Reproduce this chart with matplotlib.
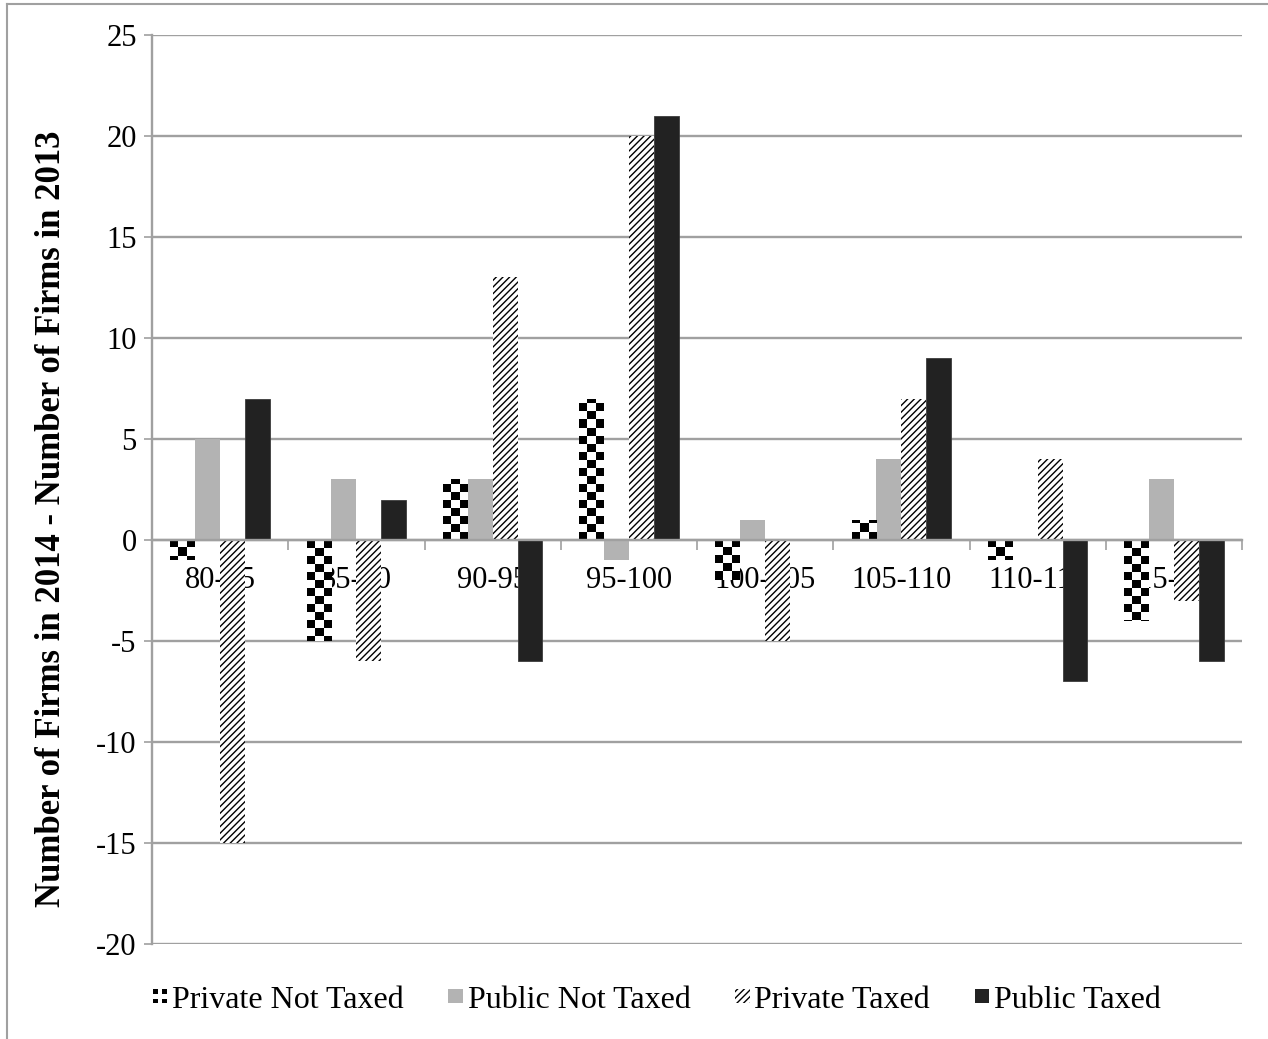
import numpy as np
import matplotlib
matplotlib.use("Agg")
import matplotlib.pyplot as plt
from matplotlib.patches import Rectangle
from matplotlib.legend_handler import HandlerBase
from matplotlib.lines import Line2D

# Price bands and change in firm counts (2014 minus 2013)
categories = ["80-85", "85-90", "90-95", "95-100", "100-105", "105-110", "110-115", "115-120"]
private_not_taxed = [-1, -5, 3, 7, -2, 1, -1, -4]
public_not_taxed = [5, 3, 3, -1, 1, 4, 0, 3]
private_taxed = [-15, -6, 13, 20, -5, 7, 4, -3]
public_taxed = [7, 2, -6, 21, 0, 9, -7, -6]
series_names = ["Private Not Taxed", "Public Not Taxed", "Private Taxed", "Public Taxed"]
y_ticks = [-20, -15, -10, -5, 0, 5, 10, 15, 20, 25]

plt.rcParams["font.family"] = ["Liberation Serif", "DejaVu Serif"]
plt.rcParams["hatch.linewidth"] = 1.0

W, H, DPI = 1268, 1039, 100
fig = plt.figure(figsize=(W / DPI, H / DPI), dpi=DPI)
ax = fig.add_axes([152 / W, 1 - 944 / H, 1090 / W, 909 / H])

GRID = "#a0a0a0"
GRAY = "#b3b3b3"
DARK = "#222222"
HATCH = "/////"

x = np.arange(len(categories))
bw = 0.183
offs = np.array([-1.5, -0.5, 0.5, 1.5]) * bw

ax.set_xlim(-0.5, len(categories) - 0.5)
ax.set_ylim(-20, 25)

bars_pnt = ax.bar(x + offs[0], private_not_taxed, bw, color="white", edgecolor="none", zorder=2)
ax.bar(x + offs[1], public_not_taxed, bw, color=GRAY, edgecolor="none", zorder=2)
ax.bar(x + offs[2], private_taxed, bw, color="white", edgecolor="black",
       linewidth=0, hatch=HATCH, zorder=2)
ax.bar(x + offs[3], public_taxed, bw, color=DARK, edgecolor="#3c3c3c", linewidth=0.6, zorder=2)

# Checkerboard fill for the private-not-taxed bars
cell_px = 8.0
ax_w_px = 1090.0
ax_h_px = 909.0
dx_per_px = (len(categories)) / ax_w_px
dy_per_px = 45.0 / ax_h_px
for p in bars_pnt.patches:
    h = p.get_height()
    if h == 0:
        continue
    x0 = p.get_x()
    w = p.get_width()
    nx = max(1, int(round(w / dx_per_px / cell_px)))
    ny = int(np.ceil(abs(h) / dy_per_px / cell_px)) + 1
    ii, jj = np.meshgrid(np.arange(nx), np.arange(ny))
    board = ((ii + jj) % 2 == 0).astype(float)
    y0 = 0.0
    y1 = np.sign(h) * ny * cell_px * dy_per_px
    if h > 0:
        board = board[::-1]
        ext = (x0, x0 + w, y0, y1)
    else:
        ext = (x0, x0 + w, y1, y0)
    im = ax.imshow(board, cmap="gray_r", vmin=0, vmax=1, extent=ext,
                   interpolation="nearest", aspect="auto", zorder=2.5)
    im.set_clip_path(p)

ax.set_xlim(-0.5, len(categories) - 0.5)
ax.set_ylim(-20, 25)

# Axes styling
ax.set_yticks(y_ticks)
ax.set_yticklabels([str(v) for v in y_ticks])
ax.yaxis.grid(True, color=GRID, linewidth=1.7, zorder=0)
ax.set_axisbelow(True)
for s in ["top", "right"]:
    ax.spines[s].set_visible(False)
ax.spines["left"].set_color(GRID)
ax.spines["left"].set_linewidth(1.7)
ax.spines["bottom"].set_position(("data", 0))
ax.spines["bottom"].set_color(GRID)
ax.spines["bottom"].set_linewidth(1.7)
ax.spines["bottom"].set_zorder(3)
ax.tick_params(axis="y", direction="out", length=6, width=1.2, color=GRID,
               labelsize=22, pad=5)
ax.set_xticks(x)
ax.set_xticklabels(categories)
ax.set_xticks(np.arange(len(categories) + 1) - 0.5, minor=True)
ax.tick_params(axis="x", which="major", length=0, labelsize=22, pad=19)
ax.tick_params(axis="x", which="minor", direction="out", length=7, width=1.2, color=GRID)
for lab in ax.get_xticklabels():
    lab.set_zorder(5)

ax.set_ylabel("Number of Firms in 2014 - Number of Firms in 2013",
              fontsize=25, fontweight="bold")
ax.yaxis.set_label_coords(-0.077, 0.468)


class CheckerHandler(HandlerBase):
    def create_artists(self, legend, orig_handle, xdescent, ydescent, width,
                       height, fontsize, trans):
        s = min(width, height)
        x0 = -xdescent + (width - s)
        y0 = -ydescent + (height - s) / 2
        c = s / 3.0
        arts = [Rectangle((x0, y0), s, s, facecolor="white", edgecolor="none",
                          transform=trans)]
        for i in (0, 2):
            for j in (0, 2):
                arts.append(Rectangle((x0 + i * c, y0 + j * c), c, c,
                                      facecolor="black", edgecolor="none",
                                      transform=trans))
        return arts


class SquareHandler(HandlerBase):
    def create_artists(self, legend, orig_handle, xdescent, ydescent, width,
                       height, fontsize, trans):
        s = min(width, height)
        x0 = -xdescent + (width - s)
        y0 = -ydescent + (height - s) / 2
        r = Rectangle((x0, y0), s, s, facecolor=orig_handle.get_facecolor(),
                      edgecolor="black", linewidth=0,
                      hatch=orig_handle.get_hatch(), transform=trans)
        return [r]


h_pnt = Rectangle((0, 0), 1, 1, facecolor="white")
h_punt = Rectangle((0, 0), 1, 1, facecolor=GRAY)
h_pt = Rectangle((0, 0), 1, 1, facecolor="white", hatch=HATCH)
h_put = Rectangle((0, 0), 1, 1, facecolor=DARK)
leg = fig.legend([h_pnt, h_punt, h_pt, h_put], series_names,
                 handler_map={h_pnt: CheckerHandler(), h_punt: SquareHandler(),
                              h_pt: SquareHandler(), h_put: SquareHandler()},
                 loc="center", bbox_to_anchor=(0.518, 1 - 1000 / H), ncol=4,
                 frameon=False, fontsize=23, handlelength=0.45, handleheight=0.45,
                 handletextpad=0.15, columnspacing=1.4)

# Outer frame lines
fig.add_artist(Line2D([7 / W, 7 / W], [0, 1 - 4 / H], transform=fig.transFigure,
                      color="#a0a0a0", linewidth=1.5))
fig.add_artist(Line2D([7 / W, 1], [1 - 4 / H, 1 - 4 / H], transform=fig.transFigure,
                      color="#a0a0a0", linewidth=1.5))

fig.savefig("out.png", dpi=DPI)
